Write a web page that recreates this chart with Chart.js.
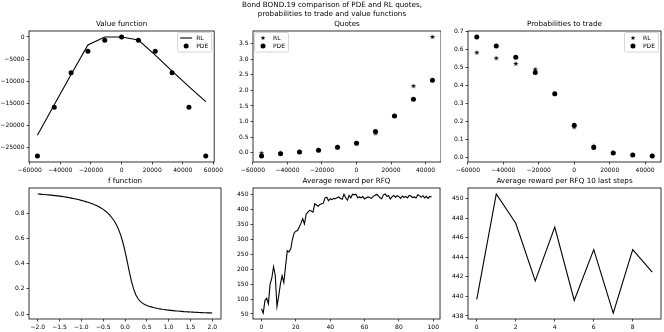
<!DOCTYPE html>
<html><head><meta charset="utf-8">
<script src="https://cdn.jsdelivr.net/npm/chart.js@4.4.1/dist/chart.umd.min.js"></script>
<style>
html,body{margin:0;padding:0;background:#fff;width:664px;height:332px;overflow:hidden;position:relative;}
canvas{position:absolute;}
</style></head><body>
<canvas id="cValue"></canvas>
<canvas id="cQuotes"></canvas>
<canvas id="cProb"></canvas>
<canvas id="cF"></canvas>
<canvas id="cReward"></canvas>
<canvas id="cLast"></canvas>
<script>
// ---------------- DATA ----------------
const suptitle = ["Bond BOND.19 comparison of PDE and RL quotes,", "probabilities to trade and value functions"];
const inventory = [-55000, -44000, -33000, -22000, -11000, 0, 11000, 22000, 33000, 44000, 55000];
const valueRL  = [-22200, -15300, -8500, -1800, 0, 0, -700, -4100, -7700, -11200, -14600];
const valuePDE = [-26900, -15850, -8100, -3250, -750, 0, -750, -3250, -8100, -15850, -26900];

const quoteInventory = [-55000, -44000, -33000, -22000, -11000, 0, 11000, 22000, 33000, 44000];
const quotesRL  = [-0.02, -0.01, 0.02, 0.08, 0.16, 0.30, 0.62, 1.18, 2.14, 3.72];
const quotesPDE = [-0.11, -0.04, 0.02, 0.08, 0.17, 0.30, 0.68, 1.18, 1.72, 2.33];

const probRL  = [0.581, 0.550, 0.519, 0.488, 0.350, 0.167, 0.063, 0.024, 0.013, 0.008];
const probPDE = [0.668, 0.618, 0.555, 0.471, 0.353, 0.178, 0.055, 0.024, 0.013, 0.007];

const fX = [-2.00,-1.95,-1.90,-1.85,-1.80,-1.75,-1.70,-1.65,-1.60,-1.55,-1.50,-1.45,-1.40,-1.35,-1.30,-1.25,-1.20,-1.15,-1.10,-1.05,
            -1.00,-0.95,-0.90,-0.85,-0.80,-0.75,-0.70,-0.65,-0.60,-0.55,-0.50,-0.45,-0.40,-0.35,-0.30,-0.25,-0.20,-0.15,-0.10,-0.05,
            0.00,0.05,0.10,0.15,0.20,0.25,0.30,0.35,0.40,0.45,0.50,0.55,0.60,0.65,0.70,0.75,0.80,0.85,0.90,0.95,
            1.00,1.05,1.10,1.15,1.20,1.25,1.30,1.35,1.40,1.45,1.50,1.55,1.60,1.65,1.70,1.75,1.80,1.85,1.90,1.95,2.00];
const fValues = [0.953,0.952,0.950,0.949,0.947,0.946,0.944,0.942,0.940,0.938,0.936,0.934,0.931,0.928,0.925,0.922,0.918,0.915,0.911,0.907,
                 0.902,0.897,0.892,0.887,0.881,0.875,0.868,0.861,0.852,0.842,0.831,0.818,0.803,0.785,0.764,0.740,0.711,0.674,0.628,0.570,
                 0.500,0.418,0.335,0.258,0.196,0.152,0.121,0.101,0.087,0.076,0.068,0.062,0.057,0.052,0.048,0.044,0.041,0.038,0.036,0.033,
                 0.031,0.029,0.027,0.025,0.024,0.022,0.021,0.019,0.018,0.017,0.016,0.015,0.014,0.013,0.012,0.011,0.010,0.010,0.009,0.009,0.008];

const rewardValues = [67,53,95,103,84,150,170,209,180,75,
                      110,150,178,155,210,262,258,268,300,322,
                      328,330,342,355,370,352,385,392,398,396,
                      392,420,416,412,418,420,422,440,442,430,
                      437,434,438,437,440,443,438,435,452,440,
                      432,448,440,452,450,452,440,443,440,444,
                      436,440,443,441,438,445,448,452,447,440,
                      437,450,453,445,447,436,443,448,442,447,
                      444,438,446,441,445,440,448,446,441,443,
                      439.7,450.5,447.5,441.6,447.1,439.6,444.8,438.3,444.8,442.5];
const lastSteps = [0,1,2,3,4,5,6,7,8,9];
const lastRewards = [439.7,450.5,447.5,441.6,447.1,439.6,444.8,438.3,444.8,442.5];

const valueXTicks = [-60000,-40000,-20000,0,20000,40000,60000];
const valueYTicks = [-25000,-20000,-15000,-10000,-5000,0];
const quoteXTicks = [-60000,-40000,-20000,0,20000,40000];
const quoteYTicks = [0,0.5,1.0,1.5,2.0,2.5,3.0,3.5];
const probYTicks  = [0,0.1,0.2,0.3,0.4,0.5,0.6,0.7];
const fXTicks = [-2,-1.5,-1,-0.5,0,0.5,1,1.5,2];
const fYTicks = [0,0.2,0.4,0.6,0.8];
const rewardXTicks = [0,20,40,60,80,100];
const rewardYTicks = [50,100,150,200,250,300,350,400,450];
const lastXTicks = [0,2,4,6,8];
const lastYTicks = [438,440,442,444,446,448,450];

// ---------------- HELPERS ----------------
const FONT = 'DejaVu Sans';
const fmt = d => v => { const s = Number(v).toFixed(d); return s.replace('-', '\u2212'); };
function padRange(vals){ const mn = Math.min(...vals), mx = Math.max(...vals), p = (mx - mn) * 0.05; return [mn - p, mx + p]; }
const pts = (xs, ys) => xs.map((x, i) => ({x: x, y: ys[i]}));

function starImage(r){
  const s = Math.ceil(r * 2 + 2);
  const c = document.createElement('canvas'); c.width = s; c.height = s;
  const g = c.getContext('2d'); g.translate(s/2, s/2); g.beginPath();
  for (let i = 0; i < 10; i++){ const rr = i % 2 ? r * 0.4 : r; const a = -Math.PI/2 + i * Math.PI/5; g.lineTo(rr*Math.cos(a), rr*Math.sin(a)); }
  g.closePath(); g.fillStyle = '#000'; g.fill(); return c;
}
const STAR = starImage(2.8);
const STAR_LEG = starImage(2.6);

const framePlugin = { id: 'frame', afterDatasetsDraw(chart){
  const {ctx, chartArea: a} = chart; ctx.save(); ctx.strokeStyle = '#000'; ctx.lineWidth = 0.8;
  ctx.strokeRect(a.left, a.top, a.right - a.left, a.bottom - a.top); ctx.restore(); } };

const legendPlugin = { id: 'mplLegend', afterDraw(chart, args, opts){
  if (!opts || !opts.items) return;
  const ctx = chart.ctx, a = chart.chartArea; ctx.save();
  ctx.font = '6px "' + FONT + '"';
  const pad = 2.5, hl = 12, gap = 4, row = 8;
  const tw = Math.max(...opts.items.map(it => ctx.measureText(it.label).width));
  const w = pad + hl + gap + tw + pad + 1, h = opts.items.length * row + 3.5;
  const x = opts.loc === 'ul' ? a.left + 1.5 : a.right - 2.5 - w;
  const y = a.top + 1.5;
  ctx.beginPath(); ctx.roundRect(x, y, w, h, 1.5);
  ctx.fillStyle = 'rgba(255,255,255,0.8)'; ctx.fill();
  ctx.strokeStyle = '#cccccc'; ctx.lineWidth = 0.8; ctx.stroke();
  opts.items.forEach((it, i) => {
    const cy = y + 5.5 + row * i, hx = x + pad;
    ctx.fillStyle = '#000'; ctx.strokeStyle = '#000';
    if (it.type === 'line'){ ctx.lineWidth = 1.1; ctx.beginPath(); ctx.moveTo(hx, cy); ctx.lineTo(hx + hl, cy); ctx.stroke(); }
    else if (it.type === 'circle'){ ctx.beginPath(); ctx.arc(hx + hl/2, cy, 2.5, 0, Math.PI*2); ctx.fill(); }
    else if (it.type === 'star'){ ctx.drawImage(STAR_LEG, hx + hl/2 - STAR_LEG.width/2, cy - STAR_LEG.height/2); }
    ctx.textBaseline = 'middle'; ctx.textAlign = 'left';
    ctx.fillText(it.label, hx + hl + gap, cy + 0.5);
  });
  ctx.restore(); } };

function axis(range, tickVals, formatter, isX, size){
  return {
    type: 'linear', min: range[0], max: range[1],
    afterBuildTicks: s => { s.ticks = tickVals.map(v => ({value: v})); },
    afterFit: s => { if (isX) s.height = size; else s.width = size; },
    grid: {display: true, drawOnChartArea: false, drawTicks: true, tickLength: 2.5, color: '#000', lineWidth: 0.7},
    border: {display: false},
    ticks: {callback: v => formatter(v), font: {family: FONT, size: 6}, color: '#000', padding: 2,
            maxRotation: 0, minRotation: 0, autoSkip: false}
  };
}

function build(id, box, m, datasets, scales, titleCfg, legendCfg){
  const cv = document.getElementById(id);
  const W = box.r - box.l + m.l + m.r, H = box.b - box.t + m.t + m.b;
  cv.style.left = (box.l - m.l) + 'px'; cv.style.top = (box.t - m.t) + 'px';
  cv.width = W; cv.height = H; cv.style.width = W + 'px'; cv.style.height = H + 'px';
  return new Chart(cv, {
    type: 'scatter',
    data: {datasets: datasets},
    options: {
      responsive: false, animation: false, devicePixelRatio: 1,
      layout: {autoPadding: false, padding: {left: 0, top: 0, bottom: 0, right: m.r}},
      scales: {x: axis(scales.x, scales.xt, scales.xf, true, m.b), y: axis(scales.y, scales.yt, scales.yf, false, m.l)},
      plugins: Object.assign({legend: {display: false}, tooltip: {enabled: false}, mplLegend: legendCfg || {}}, titleCfg)
    },
    plugins: [framePlugin, legendPlugin]
  });
}

function simpleTitle(text, mt){
  return {title: {display: true, text: text, fullSize: false, color: '#000',
                  font: {family: FONT, size: 7.2, weight: 'normal', lineHeight: 1.25},
                  padding: {top: mt - 9 - 2.5, bottom: 2.5}}};
}

const lineDS = (data) => ({data: data, showLine: true, borderColor: '#000', borderWidth: 1.1, pointRadius: 0, tension: 0, fill: false});
const dotDS = (data) => ({data: data, showLine: false, pointStyle: 'circle', pointRadius: 2.5, backgroundColor: '#000', borderWidth: 0});
const starDS = (data) => ({data: data, showLine: false, pointStyle: STAR, pointRadius: 2.5, backgroundColor: '#000', borderWidth: 0});

// ---------------- CHARTS ----------------
// Value function
build('cValue', {l: 29, t: 31, r: 221, b: 162}, {l: 29, t: 31, r: 4, b: 14},
  [dotDS(pts(inventory, valuePDE)), lineDS(pts(inventory, valueRL))],
  {x: padRange(inventory), xt: valueXTicks, xf: fmt(0), y: padRange(valueRL.concat(valuePDE)), yt: valueYTicks, yf: fmt(0)},
  simpleTitle('Value function', 31),
  {loc: 'ur', items: [{label: 'RL', type: 'line'}, {label: 'PDE', type: 'circle'}]});

// Quotes (carries the figure title)
build('cQuotes', {l: 253, t: 31, r: 441, b: 162}, {l: 30, t: 31, r: 0, b: 14},
  [dotDS(pts(quoteInventory, quotesPDE)), starDS(pts(quoteInventory, quotesRL))],
  {x: padRange(quoteInventory), xt: quoteXTicks, xf: fmt(0), y: padRange(quotesRL.concat(quotesPDE)), yt: quoteYTicks, yf: fmt(1)},
  {title: {display: true, text: suptitle, fullSize: true, color: '#000',
           font: {family: FONT, size: 7.2, weight: 'normal', lineHeight: 1.25}, padding: {top: 1, bottom: 0.5}},
   subtitle: {display: true, text: 'Quotes', fullSize: false, color: '#000',
           font: {family: FONT, size: 7.2, weight: 'normal', lineHeight: 1.25}, padding: {top: 0, bottom: 2.5}}},
  {loc: 'ul', items: [{label: 'RL', type: 'star'}, {label: 'PDE', type: 'circle'}]});

// Probabilities to trade
build('cProb', {l: 468, t: 31, r: 661, b: 162}, {l: 30, t: 31, r: 3, b: 14},
  [dotDS(pts(quoteInventory, probPDE)), starDS(pts(quoteInventory, probRL))],
  {x: padRange(quoteInventory), xt: quoteXTicks, xf: fmt(0), y: padRange(probRL.concat(probPDE)), yt: probYTicks, yf: fmt(1)},
  simpleTitle('Probabilities to trade', 31),
  {loc: 'ur', items: [{label: 'RL', type: 'star'}, {label: 'PDE', type: 'circle'}]});

// f function
build('cF', {l: 29, t: 188, r: 221, b: 319}, {l: 29, t: 26, r: 4, b: 13},
  [lineDS(pts(fX, fValues))],
  {x: padRange(fX), xt: fXTicks, xf: fmt(1), y: padRange(fValues), yt: fYTicks, yf: fmt(1)},
  simpleTitle('f function', 26), null);

// Average reward per RFQ
const rewardSteps = rewardValues.map((v, i) => i);
build('cReward', {l: 253, t: 188, r: 441, b: 319}, {l: 30, t: 26, r: 0, b: 13},
  [lineDS(pts(rewardSteps, rewardValues))],
  {x: padRange(rewardSteps), xt: rewardXTicks, xf: fmt(0), y: padRange(rewardValues), yt: rewardYTicks, yf: fmt(0)},
  simpleTitle('Average reward per RFQ', 26), null);

// Average reward per RFQ 10 last steps
build('cLast', {l: 468, t: 188, r: 661, b: 319}, {l: 30, t: 26, r: 3, b: 13},
  [lineDS(pts(lastSteps, lastRewards))],
  {x: padRange(lastSteps), xt: lastXTicks, xf: fmt(0), y: padRange(lastRewards), yt: lastYTicks, yf: fmt(0)},
  simpleTitle('Average reward per RFQ 10 last steps', 26), null);
</script>
</body></html>
